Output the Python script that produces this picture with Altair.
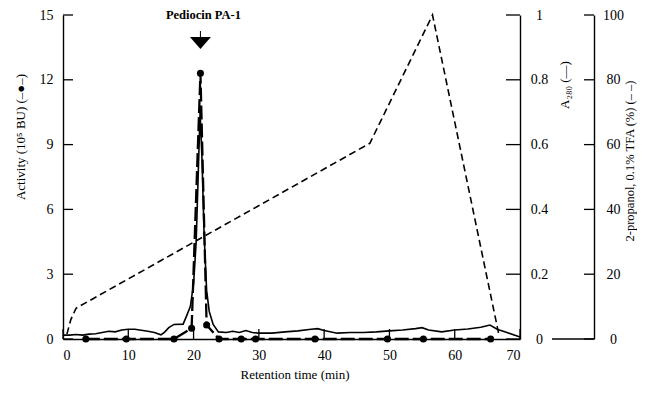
import altair as alt
import pandas as pd

FONT = "Liberation Serif"

# Activity (10^5 BU) vs retention time (min)
act_t = [3.5, 9.7, 17.0, 19.7, 21.05, 22.0, 23.9, 27.3, 29.5, 38.6, 49.7, 55.2, 65.5]
act_v = [0, 0, 0, 0.5, 12.3, 0.65, 0, 0, 0, 0, 0, 0, 0]

# A280 trace
a280_t = [0, 1, 2, 3, 4, 5, 6, 7, 8, 9, 10, 11, 12, 13, 14, 15, 15.5, 16.2, 17, 18.4,
          18.9, 19.5, 20.0, 20.4, 20.7, 21.0, 21.3, 21.6, 22.0, 22.4, 23.0, 23.8, 25, 26,
          27, 28, 29, 30, 32, 34, 36, 38, 39, 40, 42, 44, 46, 48, 50, 52, 54, 55, 56, 58,
          60, 62, 64, 65.4, 66.5, 68, 70]
a280_v = [0.012, 0.012, 0.014, 0.012, 0.015, 0.016, 0.02, 0.024, 0.022, 0.028, 0.03, 0.03,
          0.027, 0.024, 0.02, 0.013, 0.02, 0.035, 0.045, 0.046, 0.07, 0.1, 0.17, 0.3, 0.5,
          0.7, 0.55, 0.33, 0.15, 0.085, 0.045, 0.022, 0.02, 0.024, 0.02, 0.026, 0.02, 0.018,
          0.018, 0.022, 0.025, 0.03, 0.032, 0.026, 0.018, 0.02, 0.02, 0.022, 0.025, 0.028,
          0.032, 0.035, 0.028, 0.022, 0.028, 0.031, 0.036, 0.043, 0.03, 0.02, 0.006]

# 2-propanol gradient (%)
grad_t = [0.6, 1.2, 2.0, 47.0, 56.6, 66.8]
grad_v = [1.5, 6.0, 9.5, 60.4, 100.0, 1.0]

x_ticks = [0, 10, 20, 30, 40, 50, 60, 70]
act_ticks = [0, 3, 6, 9, 12, 15]
a280_ticks = [0, 0.2, 0.4, 0.6, 0.8, 1]
grad_ticks = [0, 20, 40, 60, 80, 100]

W, H = 457, 324

df_act = pd.DataFrame({"t": act_t, "v": act_v})
df_a = pd.DataFrame({"t": a280_t, "v": a280_v})
df_g = pd.DataFrame({"t": grad_t, "v": grad_v})
df_xt = pd.DataFrame({"t": x_ticks})
df_at = pd.DataFrame({"v": act_ticks})
df_a2t = pd.DataFrame({"v": a280_ticks})
df_gt = pd.DataFrame({"v": grad_ticks})
one = pd.DataFrame({"k": [0]})

xscale = alt.Scale(domain=[0, 70], nice=False, zero=False)
s_act = alt.Scale(domain=[0, 15], nice=False)
s_a = alt.Scale(domain=[0, 1], nice=False)
s_g = alt.Scale(domain=[0, 100], nice=False)

ax_common = dict(grid=False, tickSize=0, domainColor="black", domainWidth=1.4,
                 labelFont=FONT, labelFontSize=14, labelColor="black", title=None)

x_axis = alt.Axis(values=x_ticks, labelPadding=9, **ax_common)


def xe():
    return alt.X("t:Q", scale=xscale, axis=x_axis)


grad = alt.Chart(df_g).mark_line(color="black", strokeWidth=1.6, strokeDash=[7, 4]).encode(
    x=xe(),
    y=alt.Y("v:Q", scale=s_g,
            axis=alt.Axis(orient="right", offset=74, values=grad_ticks, labelPadding=19,
                          labelAlign="center", **ax_common)),
)

a280 = alt.Chart(df_a).mark_line(color="black", strokeWidth=1.6).encode(
    x=xe(),
    y=alt.Y("v:Q", scale=s_a,
            axis=alt.Axis(orient="right", values=a280_ticks, labelPadding=19,
                          labelAlign="center", format="~g", **ax_common)),
)

act_line = alt.Chart(df_act).mark_line(color="black", strokeWidth=2.3, strokeDash=[14, 4]).encode(
    x=xe(),
    y=alt.Y("v:Q", scale=s_act,
            axis=alt.Axis(orient="left", values=act_ticks, labelPadding=10, **ax_common)),
)
act_pts = alt.Chart(df_act).mark_circle(color="black", size=50, opacity=1).encode(
    x=xe(),
    y=alt.Y("v:Q", scale=s_act, axis=None),
)

# inward ticks
tick_left = alt.Chart(df_at).mark_rule(color="black", strokeWidth=1.3).encode(
    y=alt.Y("v:Q", scale=s_act, axis=None), x=alt.value(0), x2=alt.value(10))
tick_x = alt.Chart(df_xt).mark_rule(color="black", strokeWidth=1.3).encode(
    x=xe(), y=alt.value(H), y2=alt.value(H - 10))
tick_a = alt.Chart(df_a2t).mark_rule(color="black", strokeWidth=1.3).encode(
    y=alt.Y("v:Q", scale=s_a, axis=None), x=alt.value(W - 14), x2=alt.value(W))
tick_g = alt.Chart(df_gt).mark_rule(color="black", strokeWidth=1.3).encode(
    y=alt.Y("v:Q", scale=s_g, axis=None), x=alt.value(W + 64), x2=alt.value(W + 74))
base_g = alt.Chart(one).mark_rule(color="black", strokeWidth=1.3).encode(
    x=alt.value(W + 32), x2=alt.value(W + 74), y=alt.value(H))

# peak annotation
peak = pd.DataFrame({"t": [21.05]})
arrow_stem = alt.Chart(peak).mark_rule(color="black", strokeWidth=1).encode(
    x=xe(), y=alt.value(16), y2=alt.value(23))
arrow_head = alt.Chart(peak).mark_point(
    shape="M-1,-0.57L1,-0.57L0,0.57Z", filled=True, color="black", opacity=1, size=441
).encode(x=xe(), y=alt.value(28))
peak_text = alt.Chart(peak).mark_text(
    text="Pediocin PA-1", font=FONT, fontSize=12.5, fontWeight="bold", color="black",
    baseline="middle", align="center", dx=3
).encode(x=xe(), y=alt.value(0))

# axis titles
def title(txt, x, y, angle=0, size=13):
    kw = dict(text=txt, font=FONT, fontSize=size, color="black", align="center", baseline="middle")
    if angle:
        kw["angle"] = angle
    return alt.Chart(one).mark_text(**kw).encode(x=alt.value(x), y=alt.value(y))

t_left = title("Activity (10⁵ BU)    (–●–)", -42, 122, 270)
t_a = title("A₂₈₀ (—)", 502, 70, 270)
t_g = title("2-propanol, 0.1% TFA (%)  (– –)", 567, 146, 270, 12.5)
t_x = title("Retention time (min)", 232, 360)

chart = alt.layer(
    grad, a280, act_line, act_pts, tick_left, tick_x, tick_a, tick_g, base_g,
    arrow_stem, arrow_head, peak_text, t_left, t_a, t_g, t_x
).resolve_scale(y="independent").properties(
    width=W, height=H,
    padding={"left": 55, "top": 7, "right": 117, "bottom": 45},
    autosize=alt.AutoSizeParams(type="none"),
).configure_view(stroke="transparent")

chart.save("out.html", embed_options={"renderer": "svg", "actions": False})
